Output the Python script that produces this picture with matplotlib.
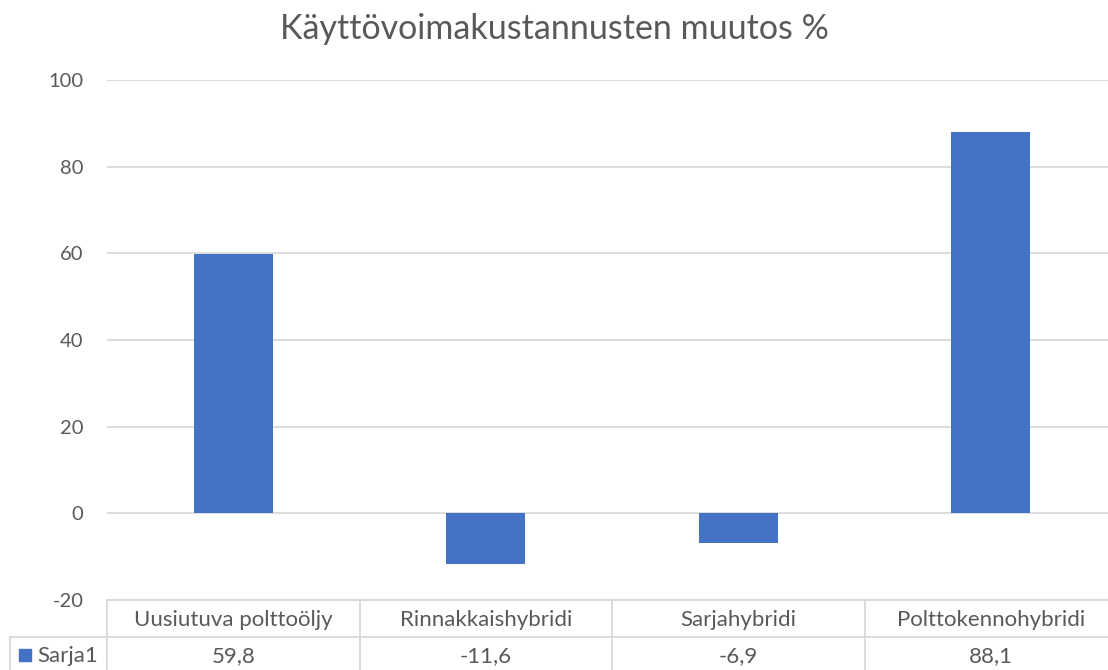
import matplotlib
matplotlib.use("Agg")
import matplotlib.pyplot as plt
from matplotlib.patches import Rectangle

categories = ["Uusiutuva polttoöljy", "Rinnakkaishybridi", "Sarjahybridi", "Polttokennohybridi"]
values = [59.8, -11.6, -6.9, 88.1]
series_name = "Sarja1"
yticks = [-20, 0, 20, 40, 60, 80, 100]
title = "Käyttövoimakustannusten muutos %"

BAR = "#4472C4"
TXT = "#595959"
GRID = "#D9D9D9"

plt.rcParams['font.family'] = ['Lato', 'DejaVu Sans']

W, H = 1108, 670
fig = plt.figure(figsize=(W / 100, H / 100), dpi=100)
left_px, right_px, top_px, bot_px = 107, 1117, 80, 600
ax = fig.add_axes([left_px / W, 1 - bot_px / H, (right_px - left_px) / W, (bot_px - top_px) / H])

x = list(range(len(categories)))
ax.bar(x, values, width=0.313, color=BAR, zorder=3)
ax.set_xlim(-0.5, len(categories) - 0.5)
ax.set_ylim(-20, 100)
ax.set_yticks(yticks)
ax.set_yticklabels([str(t) for t in yticks], color=TXT, fontsize=14.5)
ax.tick_params(axis='y', length=0, pad=17)
ax.tick_params(axis='x', length=0, labelbottom=False)
for s in ax.spines.values():
    s.set_visible(False)
for t in yticks:
    ax.axhline(t, color=GRID, lw=1.3, zorder=1)

fig.text(0.5, 1 - 29 / H, title, ha='center', va='center', fontsize=24.5, color=TXT)

# data table below the axes (pixel-based layout converted to figure coords)
def fx(px):
    return px / W
def fy(py):
    return 1 - py / H

col_w = (right_px - left_px) / len(categories)
row1_top, row_mid, row_bot = 600, 637, 670
label_left = 10
fig.add_artist(plt.Line2D([fx(left_px), fx(right_px)], [fy(row1_top)] * 2, color=GRID, lw=1.3))
fig.add_artist(plt.Line2D([fx(label_left), fx(right_px)], [fy(row_mid)] * 2, color=GRID, lw=1.3))
fig.add_artist(plt.Line2D([fx(label_left)] * 2, [fy(row_mid), fy(row_bot)], color=GRID, lw=1.3))
for i in range(len(categories) + 1):
    xp = left_px + i * col_w
    fig.add_artist(plt.Line2D([fx(xp)] * 2, [fy(row1_top), fy(row_bot)], color=GRID, lw=1.3))

for i, (c, v) in enumerate(zip(categories, values)):
    cx = left_px + (i + 0.5) * col_w
    fig.text(fx(cx), fy(620), c, ha='center', va='center', fontsize=16, color=TXT)
    fig.text(fx(cx), fy(656), f"{v:.1f}".replace('.', ','), ha='center', va='center',
             fontsize=16, color=TXT)

# legend key + series name
fig.add_artist(Rectangle((fx(19), fy(661)), 12 / W, 12 / H, color=BAR))
fig.text(fx(37), fy(656), series_name, ha='left', va='center', fontsize=16, color=TXT)

fig.savefig("out.png", dpi=100)
